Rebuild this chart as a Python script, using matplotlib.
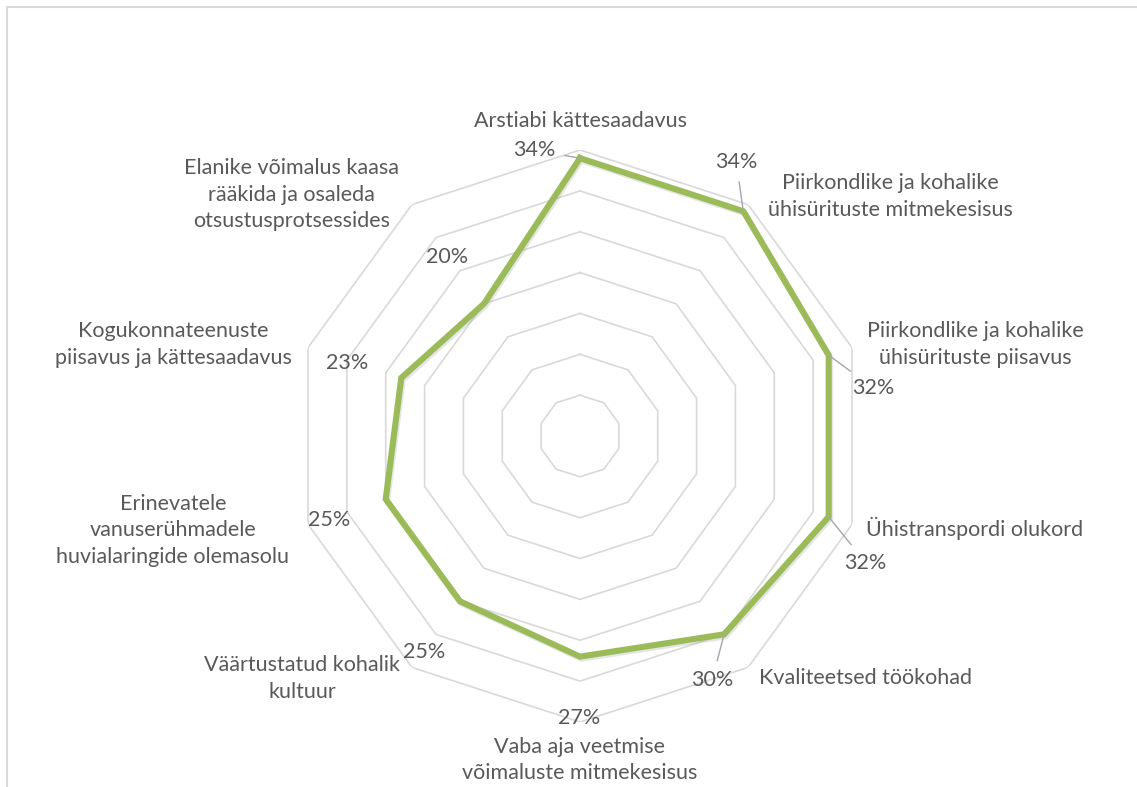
import numpy as np
import matplotlib.pyplot as plt
import matplotlib.patheffects as pe
from matplotlib.patches import Rectangle

# Chart data
categories = [
    "Arstiabi kättesaadavus",
    "Piirkondlike ja kohalike\nühisürituste mitmekesisus",
    "Piirkondlike ja kohalike\nühisürituste piisavus",
    "Ühistranspordi olukord",
    "Kvaliteetsed töökohad",
    "Vaba aja veetmise\nvõimaluste mitmekesisus",
    "Väärtustatud kohalik\nkultuur",
    "Erinevatele\nvanuserühmadele\nhuvialaringide olemasolu",
    "Kogukonnateenuste\npiisavus ja kättesaadavus",
    "Elanike võimalus kaasa\nrääkida ja osaleda\notsustusprotsessides",
]
values = [34, 34, 32, 32, 30, 27, 25, 25, 23, 20]
rings = [5, 10, 15, 20, 25, 30, 35]

# label offsets in pixels (from outer ring vertex / data point)
cat_offsets = [(0, 29), (142, 8), (123, 3), (123, -4), (117, -11),
               (0, -38), (-110, -11), (-135, -6), (-135, 3), (-120, 10)]
val_offsets = [(-46, 8), (-7, 49), (45, -33), (37, -46), (-12, -46),
               (-1, -61), (-36, -51), (-57, -21), (-54, 15), (-37, 47)]
leaders = [True, True, True, True, True, False, False, False, False, False]

W, H = 1137, 787
fig = plt.figure(figsize=(W / 100, H / 100), dpi=100)
fig.patches.append(Rectangle((7 / W, -0.05), 1.2, (H - 7) / H + 0.05,
                             transform=fig.transFigure, fill=False,
                             edgecolor='#d9d9d9', lw=1.5))

cx, cy, R = 580, 436, 286
ax = fig.add_axes([(cx - R) / W, (H - cy - R) / H, 2 * R / W, 2 * R / H],
                  projection='polar')
ax.set_theta_offset(np.pi / 2)
ax.set_theta_direction(-1)
ax.set_ylim(0, 35)
ax.grid(False)
ax.spines['polar'].set_visible(False)
ax.set_xticks([])
ax.set_yticks([])
ax.patch.set_alpha(0)

n = len(categories)
theta = np.linspace(0, 2 * np.pi, n, endpoint=False)
theta_c = np.append(theta, theta[0])

for r in rings:
    ax.plot(theta_c, [r] * (n + 1), color='#d9d9d9', lw=1.2, zorder=1)

vals_c = values + values[:1]
ax.plot(theta_c, vals_c, color='#9bbb59', lw=4.4, solid_joinstyle='miter',
        zorder=3,
        path_effects=[pe.SimpleLineShadow(offset=(1, -1.5),
                                          shadow_color='#808080', alpha=0.2),
                      pe.Normal()])

font = 'Lato'
txt_color = '#595959'
for t, lab, (dx, dy) in zip(theta, categories, cat_offsets):
    ax.annotate(lab, xy=(t, 35), xytext=(dx, dy), textcoords='offset pixels',
                ha='center', va='center', multialignment='center',
                fontsize=15.5, family=font, color=txt_color, linespacing=1.4,
                zorder=4)

for t, v, (dx, dy), ld in zip(theta, values, val_offsets, leaders):
    ax.annotate(f"{v}%", xy=(t, v), xytext=(dx, dy), textcoords='offset pixels',
                ha='center', va='center', fontsize=15.5, family=font,
                color=txt_color, zorder=4,
                arrowprops=dict(arrowstyle='-', color='#a6a6a6', lw=1.0,
                                shrinkA=5, shrinkB=0) if ld else None)

fig.savefig('out.png', dpi=100)
